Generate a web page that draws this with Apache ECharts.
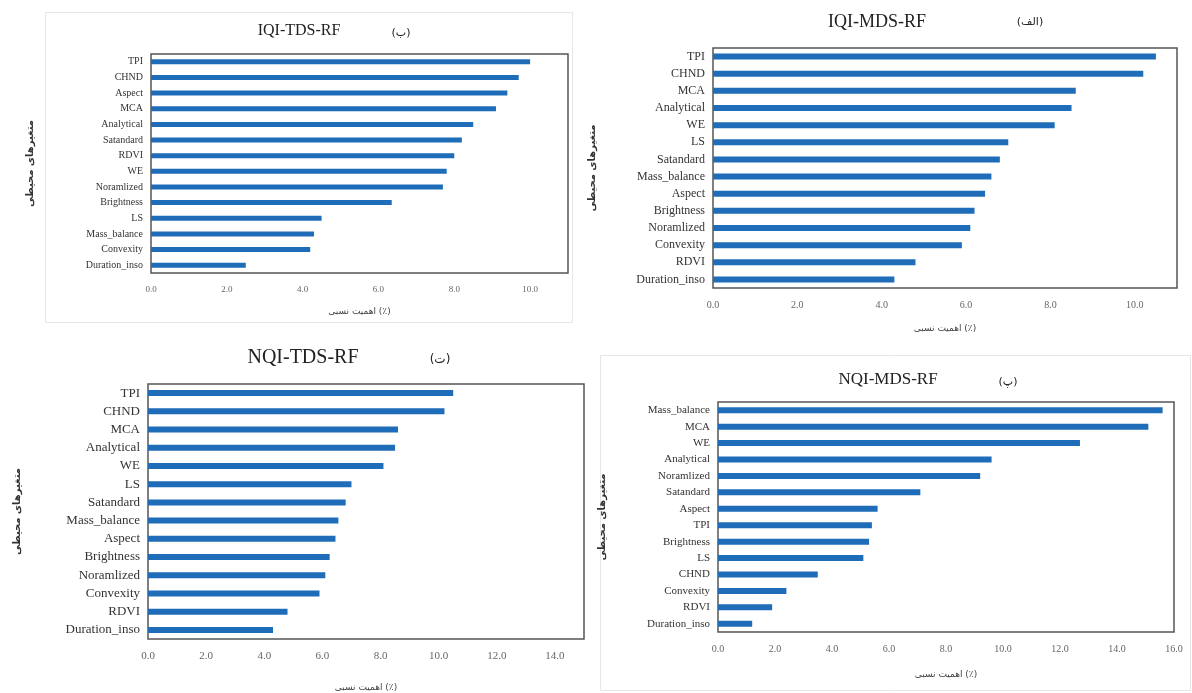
<!DOCTYPE html>
<html>
<head>
<meta charset="utf-8">
<script src="https://cdn.jsdelivr.net/npm/echarts@6/dist/echarts.min.js"></script>
<style>html,body{margin:0;padding:0;background:#fff}#c{width:1192px;height:693px}</style>
</head>
<body>
<div id="c"></div>
<script>
// Panel (ب) IQI-TDS-RF
const catsIqiTds = ['TPI','CHND','Aspect','MCA','Analytical','Satandard','RDVI','WE','Noramlized','Brightness','LS','Mass_balance','Convexity','Duration_inso'];
const valsIqiTds = [10.0, 9.7, 9.4, 9.1, 8.5, 8.2, 8.0, 7.8, 7.7, 6.35, 4.5, 4.3, 4.2, 2.5];
// Panel (الف) IQI-MDS-RF
const catsIqiMds = ['TPI','CHND','MCA','Analytical','WE','LS','Satandard','Mass_balance','Aspect','Brightness','Noramlized','Convexity','RDVI','Duration_inso'];
const valsIqiMds = [10.5, 10.2, 8.6, 8.5, 8.1, 7.0, 6.8, 6.6, 6.45, 6.2, 6.1, 5.9, 4.8, 4.3];
// Panel (ت) NQI-TDS-RF
const catsNqiTds = ['TPI','CHND','MCA','Analytical','WE','LS','Satandard','Mass_balance','Aspect','Brightness','Noramlized','Convexity','RDVI','Duration_inso'];
const valsNqiTds = [10.5, 10.2, 8.6, 8.5, 8.1, 7.0, 6.8, 6.55, 6.45, 6.25, 6.1, 5.9, 4.8, 4.3];
// Panel (پ) NQI-MDS-RF
const catsNqiMds = ['Mass_balance','MCA','WE','Analytical','Noramlized','Satandard','Aspect','TPI','Brightness','LS','CHND','Convexity','RDVI','Duration_inso'];
const valsNqiMds = [15.6, 15.1, 12.7, 9.6, 9.2, 7.1, 5.6, 5.4, 5.3, 5.1, 3.5, 2.4, 1.9, 1.2];

const xMax = [11, 11, 15, 16];
const xName = 'اهمیت نسبی (٪)';
const yName = 'متغیرهای محیطی';
const serif = 'Liberation Serif';
const barColor = '#1f6db8';

const chart = echarts.init(document.getElementById('c'));

const grids = [
  {left: 151, top: 54, width: 417, height: 219},
  {left: 713, top: 48, width: 464, height: 240},
  {left: 148, top: 384, width: 436, height: 257},
  {left: 718, top: 402, width: 456, height: 230}
].map(g => Object.assign({show: true, borderColor: '#555', borderWidth: 1.5, backgroundColor: '#fff'}, g));

const catLists = [catsIqiTds, catsIqiMds, catsNqiTds, catsNqiMds];
const valLists = [valsIqiTds, valsIqiMds, valsNqiTds, valsNqiMds];
const catFont = [10, 12, 13, 11];
const tickFont = [9, 10, 11, 10];
const nameGapX = [34, 36, 44, 38];
const nameGapY = [116, 116, 126, 111];
const barW = [5, 6, 6, 6];

const xAxes = xMax.map((m, i) => ({
  type: 'value', gridIndex: i, min: 0, max: m, interval: 2,
  axisLine: {show: false}, axisTick: {show: false}, splitLine: {show: false},
  axisLabel: {fontFamily: serif, fontSize: tickFont[i], color: '#666', margin: 12,
    formatter: v => (v % 2 === 0 ? v.toFixed(1) : '')},
  name: xName, nameLocation: 'middle', nameGap: nameGapX[i],
  nameTextStyle: {fontFamily: 'DejaVu Sans', fontSize: 9, color: '#444'}
}));

const yAxes = catLists.map((c, i) => ({
  type: 'category', gridIndex: i, data: c, inverse: true,
  axisLine: {show: false}, axisTick: {show: false},
  axisLabel: {fontFamily: serif, fontSize: catFont[i], color: '#333', margin: 8},
  name: yName, nameLocation: 'middle', nameGap: nameGapY[i], nameRotate: 90,
  nameTextStyle: {fontFamily: 'DejaVu Sans', fontSize: 10, fontWeight: 'bold', color: '#333'}
}));

const series = valLists.map((v, i) => ({
  type: 'bar', xAxisIndex: i, yAxisIndex: i, data: v, barWidth: barW[i],
  itemStyle: {color: barColor}, silent: true
}));

function txt(x, y, s, size, font) {
  return {type: 'text', x: x, y: y, style: {text: s, fontFamily: font || serif, fontSize: size, fill: '#222', align: 'center', verticalAlign: 'middle'}};
}

chart.setOption({
  animation: false,
  grid: grids,
  xAxis: xAxes,
  yAxis: yAxes,
  series: series,
  graphic: [
    {type: 'rect', shape: {x: 45.5, y: 12.5, width: 527, height: 310}, style: {fill: 'none', stroke: '#e6e6e6', lineWidth: 1}, z: -10},
    {type: 'rect', shape: {x: 600.5, y: 355.5, width: 590, height: 335}, style: {fill: 'none', stroke: '#e6e6e6', lineWidth: 1}, z: -10},
    txt(299, 31, 'IQI-TDS-RF', 16),
    txt(401, 33, '(ب)', 11, 'DejaVu Sans'),
    txt(877, 22, 'IQI-MDS-RF', 18),
    txt(1030, 22, '(الف)', 11, 'DejaVu Sans'),
    txt(303, 358, 'NQI-TDS-RF', 20),
    txt(440, 360, '(ت)', 12, 'DejaVu Sans'),
    txt(888, 380, 'NQI-MDS-RF', 17),
    txt(1008, 382, '(پ)', 11, 'DejaVu Sans')
  ]
});
</script>
</body>
</html>
